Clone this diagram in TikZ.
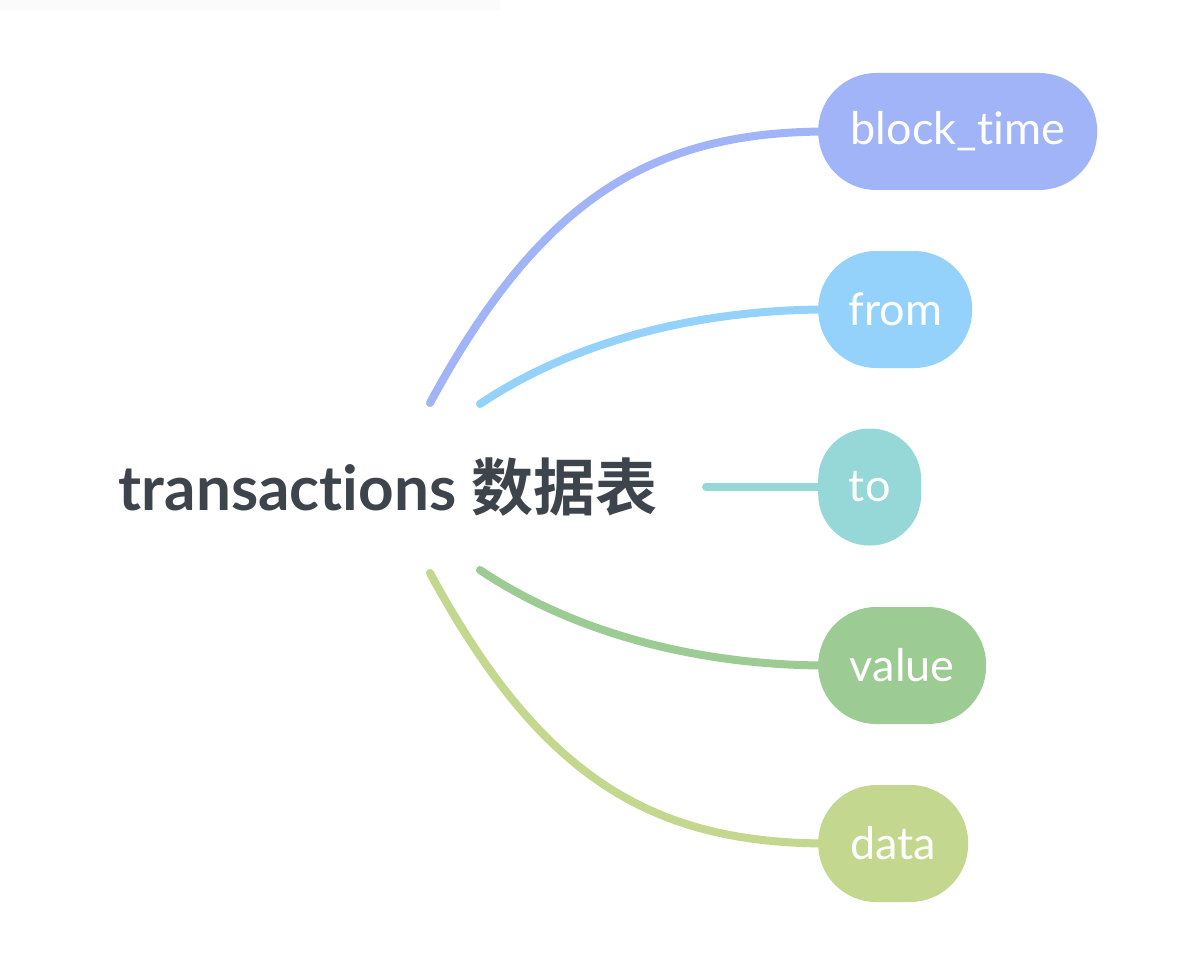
\documentclass[tikz,border=0pt]{standalone}
\usepackage{fontspec}
\setmainfont{Lato}[Ligatures={NoCommon}]
\newfontfamily\cjkfont{Noto Sans CJK SC}[BoldFont=* Bold]
\newfontfamily\latobold{Lato}[UprightFont=* Bold, Ligatures={NoCommon}]
\usetikzlibrary{backgrounds}
\definecolor{cBlock}{HTML}{A0B4F7}
\definecolor{cFrom}{HTML}{94D2FB}
\definecolor{cTo}{HTML}{96D8D8}
\definecolor{cValue}{HTML}{9CCC94}
\definecolor{cData}{HTML}{C3D78E}
\definecolor{cText}{HTML}{3D444C}
\tikzset{
  leaf/.style={anchor=west, minimum height=117pt, inner sep=0pt, text=white,
    font=\fontsize{45}{52}\selectfont, rounded corners=58pt},
  link/.style={line width=8pt, line cap=round},
}
\begin{document}
\begin{tikzpicture}[x=1pt,y=-1pt]
\useasboundingbox (0,0) rectangle (1200,955);
\node[anchor=center, text=cText, inner sep=0pt] (root) at (388,487)
  {\latobold\fontsize{62}{70}\selectfont transactions {\cjkfont\bfseries 数据表}};
\node[leaf, fill=cBlock, minimum width=279pt] (block) at (818,131.5) {block\_time};
\node[leaf, fill=cFrom, minimum width=154pt] (from) at (818,309.5) {from};
\node[leaf, fill=cTo, minimum width=103pt, rounded corners=51pt] (to) at (818,487) {to};
\node[leaf, fill=cValue, minimum width=168pt] (value) at (818,665.5) {value};
\node[leaf, fill=cData, minimum width=150pt] (data) at (818,843.5) {data};
\coordinate (s1) at (430,403);
\coordinate (s2) at (480,404);
\coordinate (s3) at (706,487);
\coordinate (s4) at (480,570);
\coordinate (s5) at (430,573);
\begin{scope}[on background layer]
\fill[white] (0,0) rectangle (1200,955);
\fill[black!1.5] (0,0) rectangle (500,10);
\draw[link, cBlock] (s1) .. controls (540,200) and (650,131.5) .. ([xshift=10pt]block.west);
\draw[link, cFrom] (s2) .. controls (560,350) and (680,309.5) .. ([xshift=10pt]from.west);
\draw[link, cTo] (s3) -- ([xshift=10pt]to.west);
\draw[link, cValue] (s4) .. controls (560,624) and (680,665.5) .. ([xshift=10pt]value.west);
\draw[link, cData] (s5) .. controls (540,776) and (650,843.5) .. ([xshift=10pt]data.west);
\end{scope}
\end{tikzpicture}
\end{document}
